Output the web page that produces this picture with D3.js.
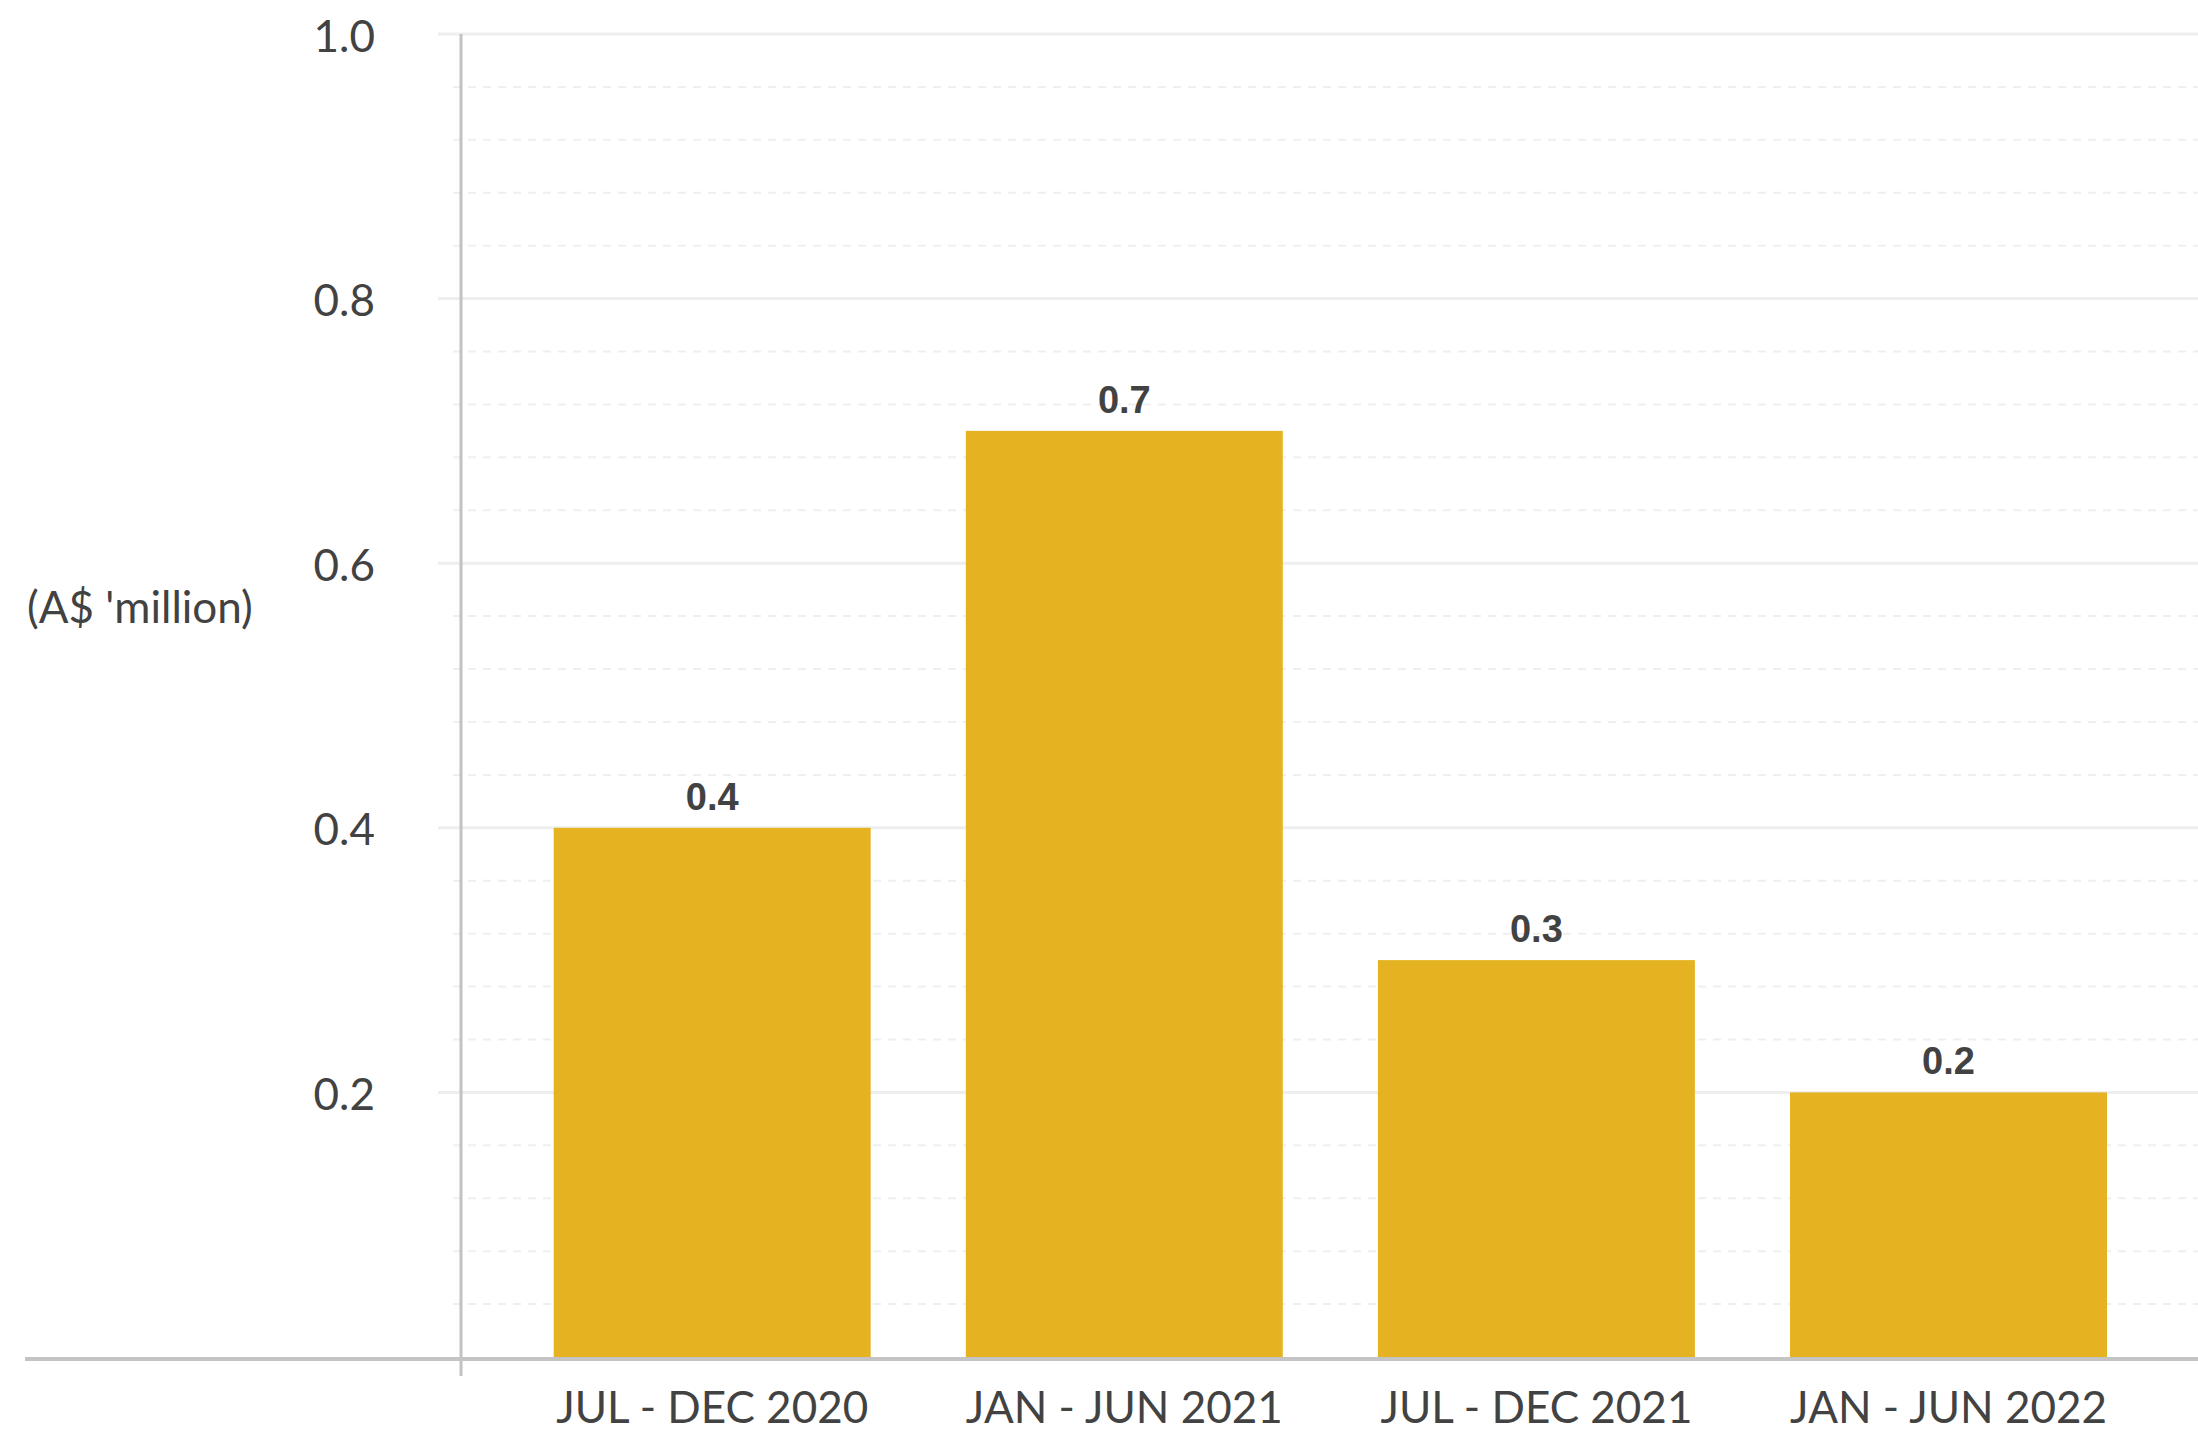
<!DOCTYPE html>
<html>
<head>
<meta charset="utf-8">
<script src="https://cdn.jsdelivr.net/npm/d3@7"></script>
<style>
  html, body { margin: 0; padding: 0; background: #ffffff; }
  svg { display: block; }
</style>
</head>
<body>
<svg id="chart" width="2198" height="1432"></svg>
<script>
// Half-year periods and the amounts reported for each (A$ million)
const periods = ["JUL - DEC 2020", "JAN - JUN 2021", "JUL - DEC 2021", "JAN - JUN 2022"];
const amounts = [0.4, 0.7, 0.3, 0.2];
const majorTicks = [0.2, 0.4, 0.6, 0.8, 1.0];
const axisTitle = "(A$ 'million)";

const svg = d3.select("#chart");
const W = 2198, H = 1432;
const plot = { left: 461, right: 2198, top: 34, bottom: 1357 };

const textColor = "#424242";
const barColor = "#E5B322";
const labelFont = "Lato, 'Open Sans', sans-serif";
const valueFont = "'Liberation Sans', Arial, sans-serif";

const x = d3.scaleBand()
  .domain(periods)
  .range([plot.left + 1.7, plot.right])
  .paddingInner(0.2308)
  .paddingOuter(0.2208);

const y = d3.scaleLinear()
  .domain([0, 1])
  .range([plot.bottom, plot.top]);

// Minor dashed gridlines every 0.04
const majorSet = new Set(majorTicks.map(v => v.toFixed(2)));
const minorTicks = d3.range(1, 25).map(i => i * 0.04).filter(v => !majorSet.has(v.toFixed(2)));

svg.append("g")
  .selectAll("line")
  .data(minorTicks)
  .join("line")
  .attr("x1", plot.left - 8)
  .attr("x2", W)
  .attr("y1", d => y(d))
  .attr("y2", d => y(d))
  .attr("stroke", "#efefef")
  .attr("stroke-width", 2)
  .attr("stroke-dasharray", "8,7");

// Major solid gridlines with tick stubs
svg.append("g")
  .selectAll("line")
  .data(majorTicks)
  .join("line")
  .attr("x1", plot.left - 23)
  .attr("x2", W)
  .attr("y1", d => y(d))
  .attr("y2", d => y(d))
  .attr("stroke", "#eeeeee")
  .attr("stroke-width", 3);

// Y tick labels
svg.append("g")
  .selectAll("text")
  .data(majorTicks)
  .join("text")
  .attr("x", 375)
  .attr("y", d => y(d))
  .attr("dy", "0.4em")
  .attr("text-anchor", "end")
  .attr("font-family", labelFont)
  .attr("font-size", 44)
  .attr("fill", textColor)
  .text(d => d3.format(".1f")(d));

// Axis title
svg.append("text")
  .attr("x", 27)
  .attr("y", 623)
  .attr("font-family", labelFont)
  .attr("font-size", 44)
  .attr("fill", textColor)
  .text(axisTitle);

// Bars
svg.append("g")
  .selectAll("rect")
  .data(amounts)
  .join("rect")
  .attr("x", (d, i) => x(periods[i]))
  .attr("width", x.bandwidth())
  .attr("y", d => y(d))
  .attr("height", d => y(0) - y(d))
  .attr("fill", barColor);

// Value labels above bars
svg.append("g")
  .selectAll("text")
  .data(amounts)
  .join("text")
  .attr("x", (d, i) => x(periods[i]) + x.bandwidth() / 2)
  .attr("y", d => y(d) - 18)
  .attr("text-anchor", "middle")
  .attr("font-family", valueFont)
  .attr("font-weight", "bold")
  .attr("font-size", 38)
  .attr("fill", textColor)
  .text(d => d3.format(".1f")(d));

// Y axis line
svg.append("line")
  .attr("x1", plot.left).attr("x2", plot.left)
  .attr("y1", plot.top).attr("y2", 1376)
  .attr("stroke", "#c2c2c2")
  .attr("stroke-width", 3);

// X axis baseline
svg.append("line")
  .attr("x1", 25).attr("x2", W)
  .attr("y1", plot.bottom + 2).attr("y2", plot.bottom + 2)
  .attr("stroke", "#c4c4c4")
  .attr("stroke-width", 4);

// Category labels
svg.append("g")
  .selectAll("text")
  .data(periods)
  .join("text")
  .attr("x", d => x(d) + x.bandwidth() / 2)
  .attr("y", 1423)
  .attr("text-anchor", "middle")
  .attr("font-family", labelFont)
  .attr("font-size", 44)
  .attr("fill", textColor)
  .text(d => d);
</script>
</body>
</html>
